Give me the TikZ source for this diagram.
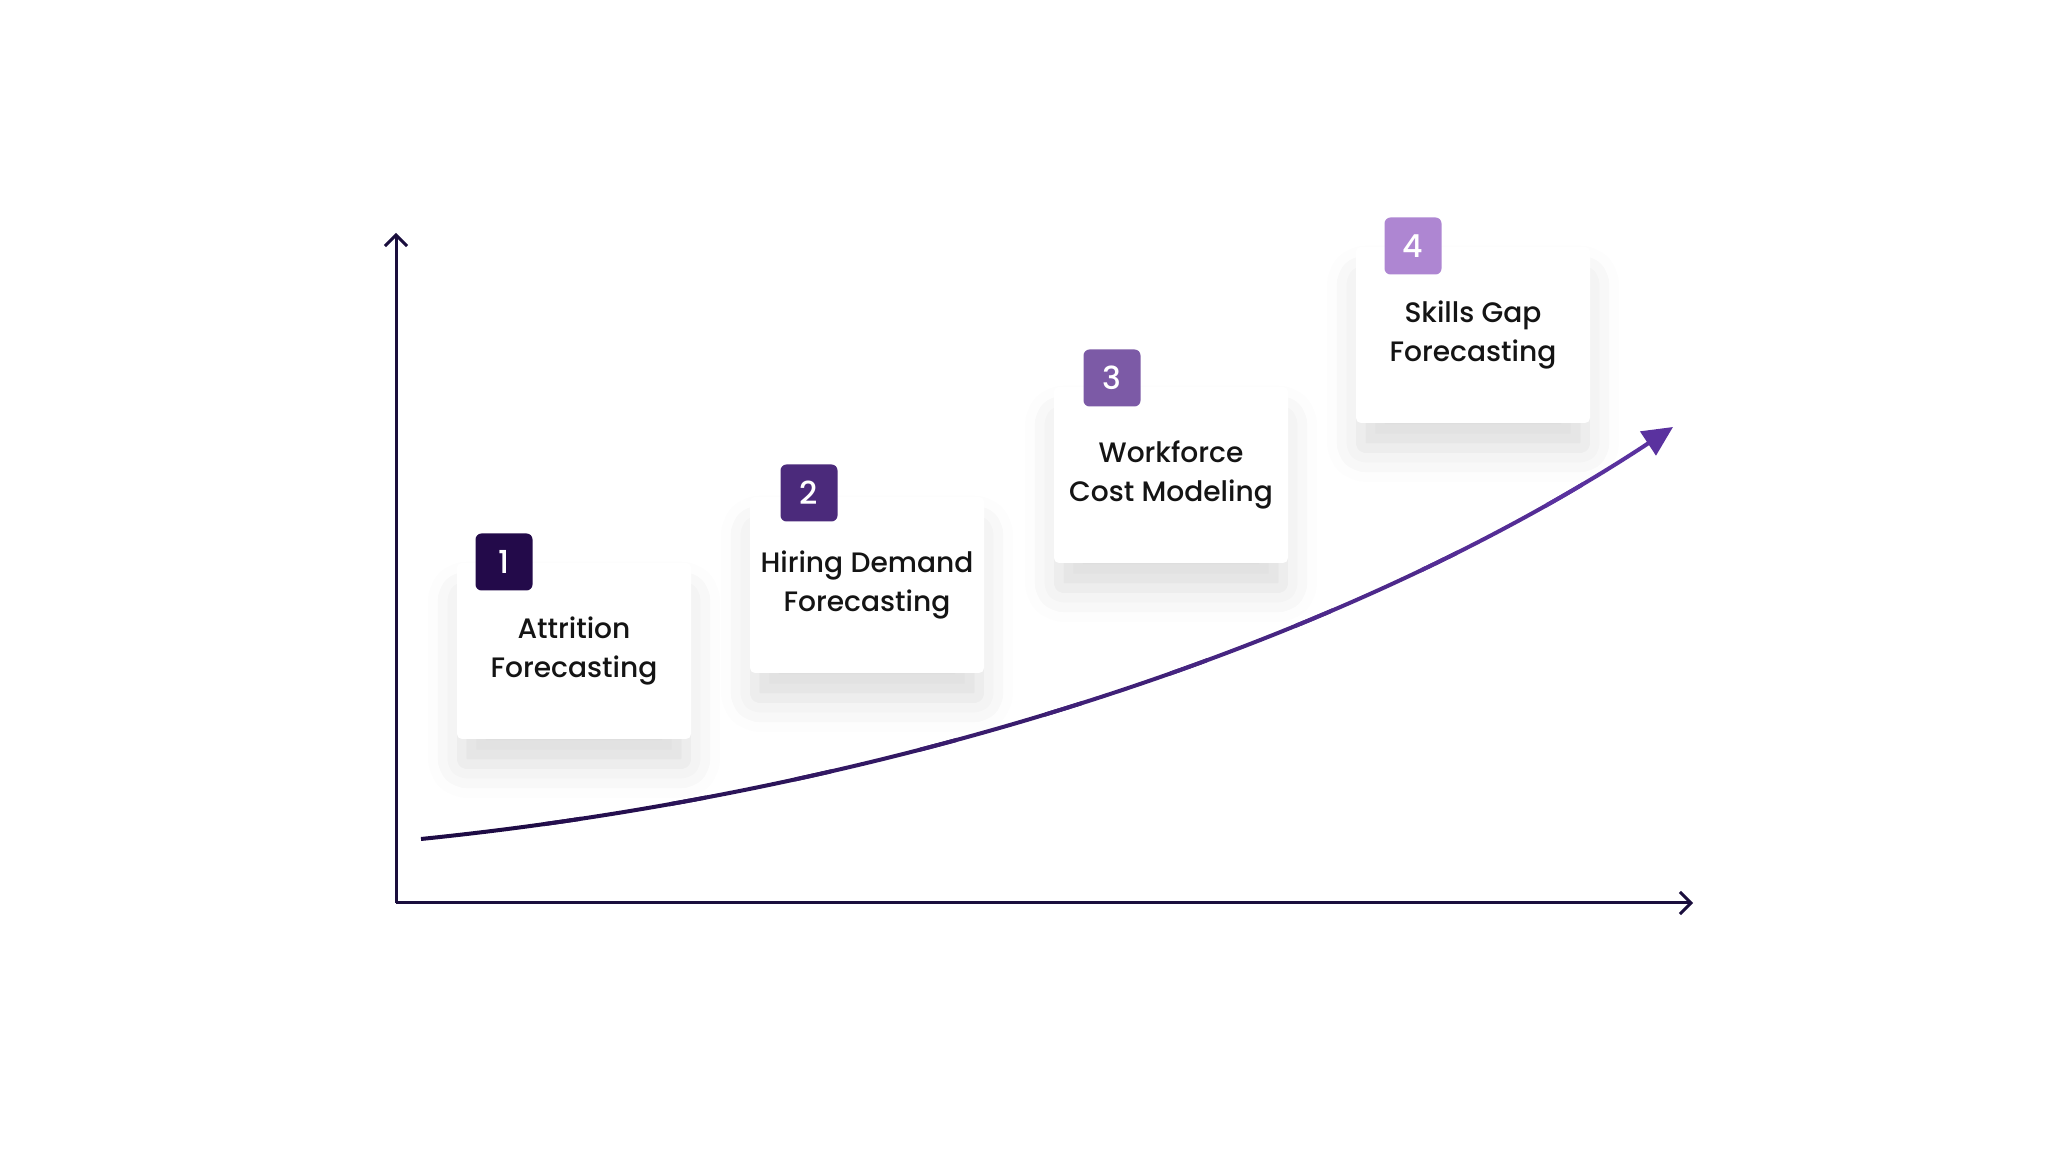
\documentclass[tikz,border=0pt]{standalone}
\usepackage{fontspec}
\setmainfont{Poppins}[UprightFont=* Medium, BoldFont=* SemiBold]
\usetikzlibrary{arrows.meta,shadows.blur,positioning}
\definecolor{axiscol}{HTML}{1A0E3D}
\definecolor{curvedark}{HTML}{1E0B45}
\definecolor{curvelight}{HTML}{5B32A0}
\definecolor{badge1}{HTML}{230A4A}
\definecolor{badge2}{HTML}{4B2A7B}
\definecolor{badge3}{HTML}{7C5AA6}
\definecolor{badge4}{HTML}{AE86D2}
\definecolor{cardtext}{HTML}{141414}
\begin{document}
\begin{tikzpicture}[x=0.1mm, y=-0.1mm, >={Straight Barb[length=1.1mm,width=2.2mm]},
	axis/.style={axiscol, line width=0.3mm},
	trend/.style={line width=0.4mm, -{Triangle[length=3mm,width=2.8mm]}},
	card/.style={fill=white, rounded corners=0.5mm, minimum width=23.4mm, minimum height=17.6mm, inner sep=0pt,
		align=center, text=cardtext, font=\fontsize{8}{11}\selectfont,
		blur shadow={shadow xshift=0mm, shadow yshift=-3mm, shadow blur radius=3.5mm, shadow opacity=14, shadow scale=0.96}},
	badge/.style={rounded corners=0.6mm, minimum size=5.7mm, inner sep=0pt, text=white, font=\fontsize{9}{9}\selectfont}]
	\useasboundingbox (0,0) rectangle (2048,1152);
	% --- Axes ---
	\coordinate (O) at (396,903);
	\coordinate (ytop) at (396,233);
	\coordinate (xend) at (1693,903);
	\draw[axis,->] (O) -- (ytop);
	\draw[axis,->] (O) -- (xend);
	% --- Growth curve (colour changes from left to right) ---
	\coordinate (cs) at (421,839);
	\coordinate (ce) at (1673,427);
	\foreach \i in {0,...,9}{
		\pgfmathsetmacro\xa{421+\i*125.2}
		\pgfmathsetmacro\pc{\i*11}
		\begin{scope}
			\clip (\xa-2,0) rectangle (\xa+160,1152);
			\draw[trend, curvelight!\pc!curvedark] (cs) .. controls (900,790) and (1350,640) .. (ce);
		\end{scope}
	}
	% --- Cards and numbers ---
	\foreach \n/\cx/\cy/\bx/\by/\txt in {1/574/651/504/562/{Attrition\\Forecasting},
		2/867/585/809/493/{Hiring Demand\\Forecasting},
		3/1171/475/1112/378/{Workforce\\Cost Modeling},
		4/1473/335/1413/246/{Skills Gap\\Forecasting}}{
		\node[card] (card\n) at (\cx,\cy) {\txt};
		\node[badge, fill=badge\n] (badge\n) at (\bx,\by) {\n};
	}
\end{tikzpicture}
\end{document}
